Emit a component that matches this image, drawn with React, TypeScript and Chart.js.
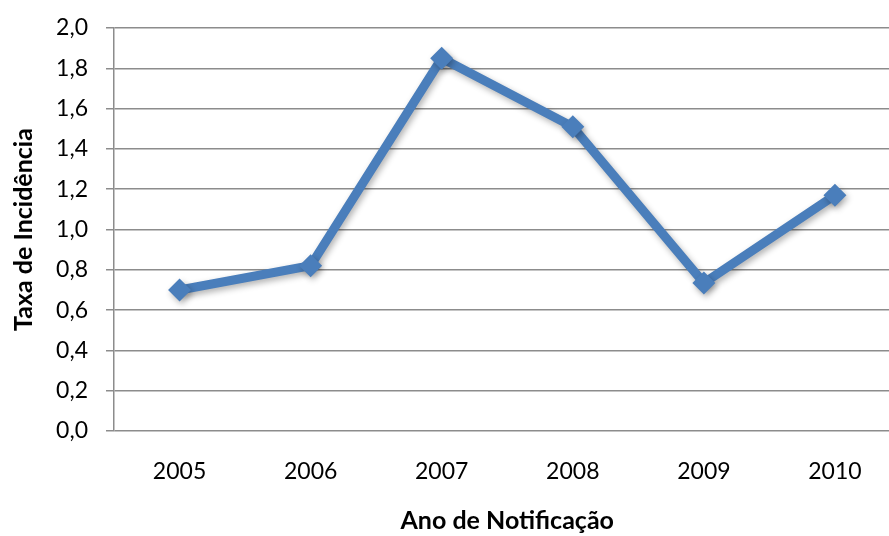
import React, { useEffect, useRef } from "react";
import { Chart, registerables } from "chart.js";

Chart.register(...registerables);

const categories = ["2005", "2006", "2007", "2008", "2009", "2010"];
const incidence = [0.7, 0.82, 1.85, 1.51, 0.735, 1.17];
const yTitle = "Taxa de Incidência";
const xTitle = "Ano de Notificação";

const shadowPlugin = {
  id: "shadow",
  beforeDatasetsDraw(chart: any) {
    const ctx = chart.ctx;
    ctx.save();
    ctx.shadowColor = "rgba(0,0,0,0.3)";
    ctx.shadowBlur = 6;
    ctx.shadowOffsetX = 2;
    ctx.shadowOffsetY = 3;
  },
  afterDatasetsDraw(chart: any) {
    chart.ctx.restore();
  },
};

export default function App() {
  const ref = useRef<HTMLCanvasElement>(null);
  useEffect(() => {
    const font = "Lato, 'Noto Sans', sans-serif";
    const chart = new Chart(ref.current!, {
      type: "line",
      data: {
        labels: categories,
        datasets: [
          {
            data: incidence,
            borderColor: "#4a7ebb",
            backgroundColor: "#4a7ebb",
            borderWidth: 9,
            pointStyle: "rectRot",
            pointRadius: 11.5,
            pointBorderWidth: 0,
            tension: 0,
            borderJoinStyle: "miter",
          },
        ],
      },
      options: {
        animation: false,
        responsive: false,
        maintainAspectRatio: false,
        layout: { padding: { top: 28, right: 0, left: 0, bottom: 0 } },
        plugins: { legend: { display: false }, tooltip: { enabled: false } },
        scales: {
          x: {
            offset: true,
            grid: { display: false, drawTicks: false },
            border: { display: false },
            ticks: { color: "#000", font: { family: font, size: 23 }, padding: 27 },
            title: {
              display: true,
              text: xTitle,
              color: "#000",
              font: { family: font, size: 25, weight: "bold" },
              padding: { top: 0, bottom: 0 },
            },
            afterFit(scale: any) {
              scale.height = 105;
              scale.paddingLeft = 0;
              scale.paddingRight = 0;
            },
          },
          y: {
            min: 0,
            max: 2,
            ticks: {
              stepSize: 0.2,
              color: "#000",
              font: { family: font, size: 23 },
              padding: 18,
              callback: (v: any) => Number(v).toFixed(1).replace(".", ","),
            },
            grid: { color: "#8c8c8c", lineWidth: 1.5, tickLength: 8 },
            border: { display: true, color: "#8c8c8c", width: 1.5 },
            title: {
              display: true,
              text: yTitle,
              color: "#000",
              font: { family: font, size: 25, weight: "bold" },
              padding: { top: 9, bottom: 0 },
            },
            afterFit(scale: any) {
              scale.width = 114;
              scale.paddingTop = 0;
              scale.paddingBottom = 0;
            },
          },
        },
      },
      plugins: [shadowPlugin],
    });
    return () => chart.destroy();
  }, []);
  return (
    <div
      style={{
        position: "absolute",
        left: 0,
        top: 0,
        width: 889,
        height: 536,
        overflow: "hidden",
        background: "#fff",
      }}
    >
      <div style={{ width: 912, height: 536 }}>
        <canvas
          ref={ref}
          width={912}
          height={536}
          style={{ display: "block", width: 912, height: 536 }}
        />
      </div>
    </div>
  );
}
